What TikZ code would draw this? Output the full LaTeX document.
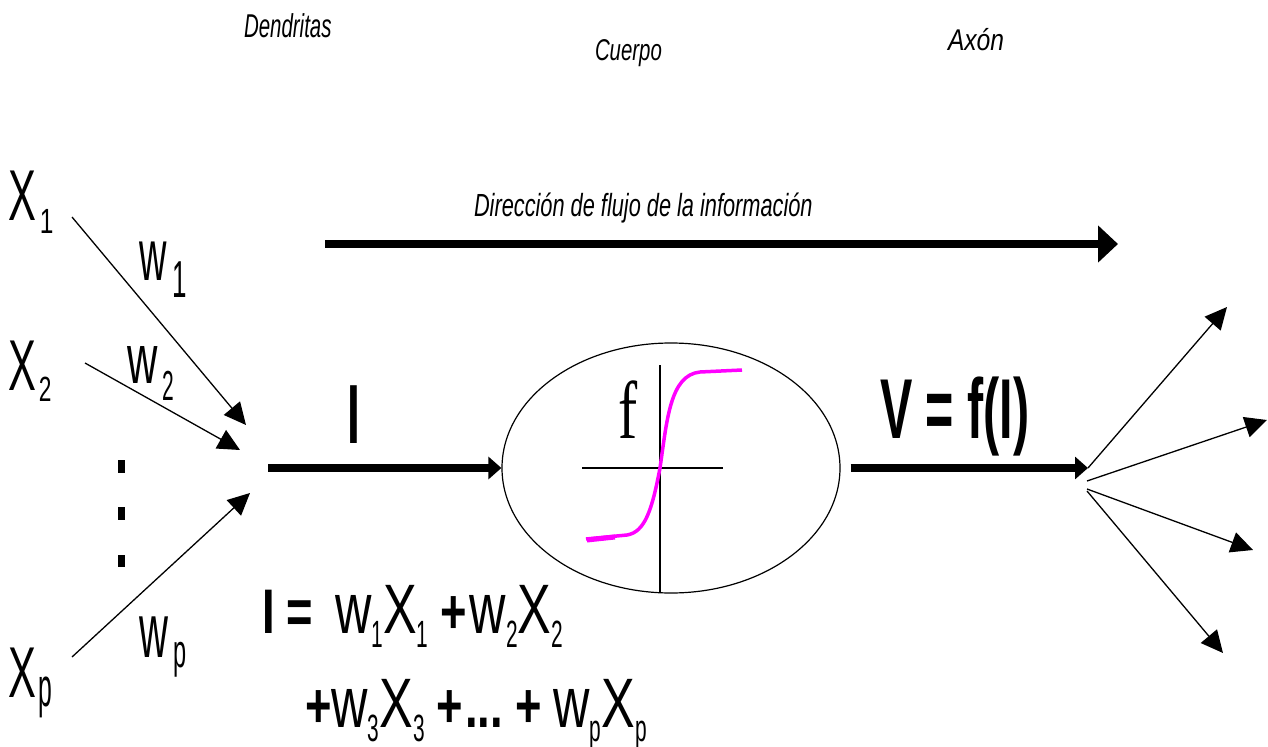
\documentclass[tikz,border=0pt]{standalone}
\usepackage{fontspec}
\setmainfont{Liberation Sans}
\newfontfamily\serifx{Liberation Serif}
\usetikzlibrary{arrows.meta,shapes.geometric}
\definecolor{sigm}{RGB}{255,0,255}
\newcommand\fsz[1]{\fontsize{#1bp}{#1bp}\selectfont}
\newcommand\sq[2]{\scalebox{#1}[1]{#2}}
\newcommand\lo[2]{\raisebox{-#1bp}{#2}}
\newcommand\Wv{\sq{0.7}{\fsz{72}w}}
\newcommand\Xv{\sq{0.72}{\fsz{70}X}}
\newcommand\Sb[1]{\lo{14}{\sq{0.55}{\fsz{38}#1}}}
\newcommand\Bo[1]{\sq{0.72}{\fsz{63}\bfseries #1}}
\begin{document}
\begin{tikzpicture}[x=1bp,y=-1bp,
  txt/.style={inner sep=0pt, outer sep=0pt, anchor=base west},
  thinarr/.style={line width=1.3bp, -{Triangle[length=22bp,width=21bp]}},
  thickarr/.style={line width=8bp, -{Triangle[length=13bp,width=22bp]}},
  axis/.style={line width=1.2bp},
]
\useasboundingbox (0,0) rectangle (1268,747);

% titles
\node[txt] (den) at (244,38) {\sq{0.62}{\fsz{33}\itshape Dendritas}};
\node[txt] (cue) at (595,61) {\sq{0.68}{\fsz{30}\itshape Cuerpo}};
\node[txt] (axo) at (948,51) {\sq{0.82}{\fsz{30}\itshape Axón}};
\node[txt] (dir) at (474,216) {\sq{0.68}{\fsz{32}\itshape Dirección de flujo de la información}};

% direction arrow
\coordinate (infoS) at (325,244);
\coordinate (infoE) at (1118,244);
\draw[line width=8bp, -{Triangle[length=20bp,width=36bp]}] (infoS) -- (infoE);

% inputs
\node[txt] (x1) at (8,220) {\sq{0.58}{\fsz{72}X}\hspace{4bp}\lo{13}{\sq{0.7}{\fsz{35}1}}};
\node[txt] (x2) at (8,390) {\sq{0.58}{\fsz{72}X}\hspace{3bp}\lo{11}{\sq{0.65}{\fsz{35}2}}};
\node[txt] (xp) at (8,697) {\sq{0.58}{\fsz{72}X}\hspace{3bp}\lo{9}{\sq{0.45}{\fsz{55}p}}};

\node[txt] (w1) at (139,280) {\sq{0.52}{\fsz{73}w}\hspace{6bp}\lo{17}{\sq{0.5}{\fsz{52}1}}};
\node[txt] (w2) at (127,383) {\sq{0.6}{\fsz{70}w}\hspace{5bp}\lo{17}{\sq{0.5}{\fsz{42}2}}};
\node[txt] (wp) at (139,657) {\sq{0.52}{\fsz{77}w}\hspace{6bp}\lo{10}{\sq{0.5}{\fsz{47}p}}};

\coordinate (s1) at (72,217);
\coordinate (t1) at (246,425);
\coordinate (s2) at (85,363);
\coordinate (t2) at (240,450);
\coordinate (s3) at (72,657);
\coordinate (t3) at (250,493);
\draw[thinarr] (s1) -- (t1);
\draw[thinarr] (s2) -- (t2);
\draw[thinarr] (s3) -- (t3);

% vertical dots
\fill (118,460) rectangle (125,473);
\fill (118,507) rectangle (125,520);
\fill (118,555) rectangle (125,567);

% cell body
\node[ellipse, draw, line width=1.2bp, minimum width=338bp, minimum height=250bp, inner sep=0pt] (body) at (671,468) {};
\draw[axis] (660,365) -- (660,593);
\draw[axis] (582,468) -- (723,468);
\draw[sigm, line width=3.5bp] (586,539) -- (627,535) .. controls (645,532) and (652,510) .. (660,468) .. controls (667,420) and (670,375) .. (700,372) -- (742,370);
\draw[sigm, line width=5bp] (587,540) -- (615,537);
\node[txt] (fl) at (618,438) {\sq{0.7}{\serifx\fsz{82}f}};

% I arrow
\coordinate (sum) at (268,468);
\draw[thickarr] (sum) -- (body.west);
\node[txt] (ilab) at (347,443) {\sq{0.55}{\fsz{84}\bfseries I}};

% output
\coordinate (out) at (1088,468);
\draw[thickarr] ([xshift=10bp]body.east) -- (out);
\node[txt] (vlab) at (880,438) {\sq{0.57}{\fsz{85}\bfseries V = f(I)}};

% fan
\coordinate (o1) at (1088,468);
\coordinate (o2) at (1087,481);
\coordinate (o3) at (1087,489);
\coordinate (o4) at (1087,491);
\coordinate (e1) at (1227,307);
\coordinate (e2) at (1267,420);
\coordinate (e3) at (1253,550);
\coordinate (e4) at (1223,653);
\draw[thinarr] (o1) -- (e1);
\draw[thinarr] (o2) -- (e2);
\draw[thinarr] (o3) -- (e3);
\draw[thinarr] (o4) -- (e4);

% formula
\node[txt] (eq1) at (262,633) {\Bo{I}\hspace{12bp}\Bo{=}\hspace{22bp}\Wv\Sb{1}\Xv\Sb{1}\hspace{12bp}\Bo{+}\hspace{3bp}\Wv\Sb{2}\Xv\Sb{2}};
\node[txt] (eq2) at (305,727) {\Bo{+}\Wv\Sb{3}\Xv\Sb{3}\hspace{12bp}\Bo{+}\hspace{2bp}\Bo{...}\hspace{12bp}\Bo{+}\hspace{12bp}\Wv\Sb{p}\Xv\Sb{p}};
\end{tikzpicture}
\end{document}
